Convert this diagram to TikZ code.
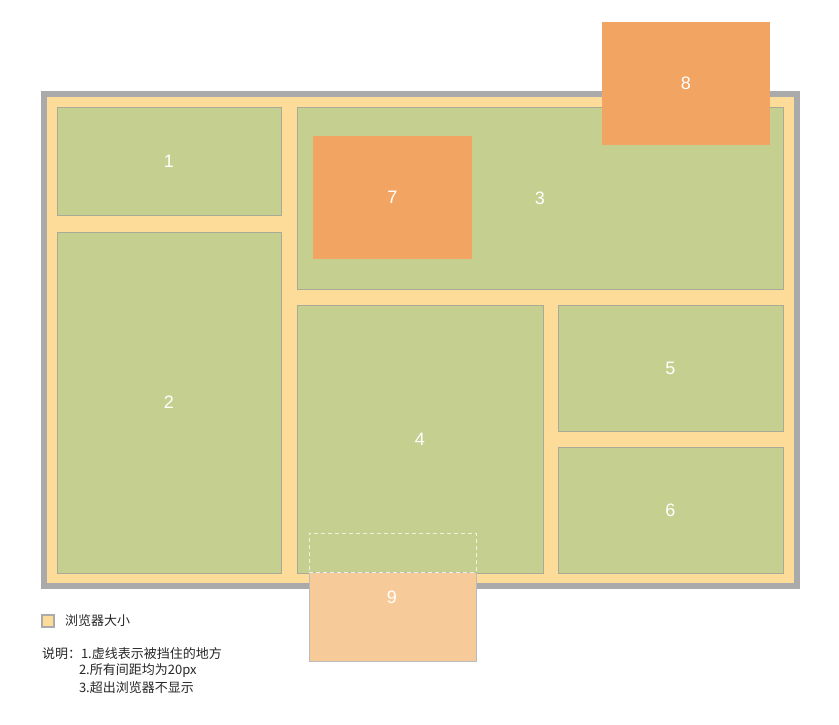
\documentclass[tikz,border=0pt]{standalone}
\usepackage{fontspec}
\setmainfont{Liberation Sans}
\newfontfamily\cjk{Noto Sans CJK SC}
\definecolor{frameg}{HTML}{AAAAAA}
\definecolor{yel}{HTML}{FDDC99}
\definecolor{grn}{HTML}{C5CF8F}
\definecolor{grnb}{HTML}{A9AA98}
\definecolor{org}{HTML}{F2A463}
\definecolor{lorg}{HTML}{F7CA9A}
\begin{document}
\begin{tikzpicture}[x=1pt,y=-1pt, every node/.style={outer sep=0pt},
  gbox/.style={draw=grnb, line width=1pt, fill=grn, anchor=north west, inner sep=0pt, text=white, font=\fontsize{18}{18}\selectfont},
  obox/.style={fill=org, anchor=north west, inner sep=0pt, text=white, font=\fontsize{18}{18}\selectfont},
  lbl/.style={text=white, font=\fontsize{18}{18}\selectfont, inner sep=0pt},
  note/.style={anchor=west, inner sep=0pt, font=\cjk\fontsize{13}{14}\selectfont, text=black!85}]
\useasboundingbox (0,0) rectangle (839,724);
% browser frame
\node[draw=frameg, line width=6pt, fill=yel, anchor=north west, inner sep=0pt, minimum width=753pt, minimum height=492pt] (frame) at (44,94) {};
% green boxes
\node[gbox, minimum width=224pt, minimum height=108pt] (b1) at (57,107) {1};
\node[gbox, minimum width=224pt, minimum height=341pt] (b2) at (57,232) {2};
\node[gbox, minimum width=486pt, minimum height=182pt] (b3) at (297,107) {3};
\node[gbox, minimum width=246pt, minimum height=268pt] (b4) at (297,305) {4};
\node[gbox, minimum width=225pt, minimum height=126pt] (b5) at (558,305) {5};
\node[gbox, minimum width=225pt, minimum height=126pt] (b6) at (558,447) {6};
% orange boxes
\node[obox, minimum width=159pt, minimum height=123pt] (b7) at (313,136) {7};
\node[obox, minimum width=168pt, minimum height=123pt] (b8) at (602,22) {8};
% box 9 (partly hidden)
\node[draw=frameg!80, line width=1pt, fill=lorg, anchor=north west, inner sep=0pt, minimum width=167pt, minimum height=89pt] (b9) at (309,572) {};
\node[lbl] (l9) at (392,597) {9};
\node[draw=white!70!grn, dashed, dash pattern=on 4pt off 3pt, line width=1pt, anchor=north west, inner sep=0pt, minimum width=167pt, minimum height=39pt] (hid) at (309,533) {};
% legend
\node[draw=frameg, line width=1.5pt, fill=yel, anchor=north west, inner sep=0pt, minimum width=12pt, minimum height=12pt] (leg) at (42,615) {};
\node[note] (legt) at (65,621) {浏览器大小};
\node[note] (n1) at (42,654) {说明：1.虚线表示被挡住的地方};
\node[note] (n2) at (79,671) {2.所有间距均为20px};
\node[note] (n3) at (79,688) {3.超出浏览器不显示};
\end{tikzpicture}
\end{document}
